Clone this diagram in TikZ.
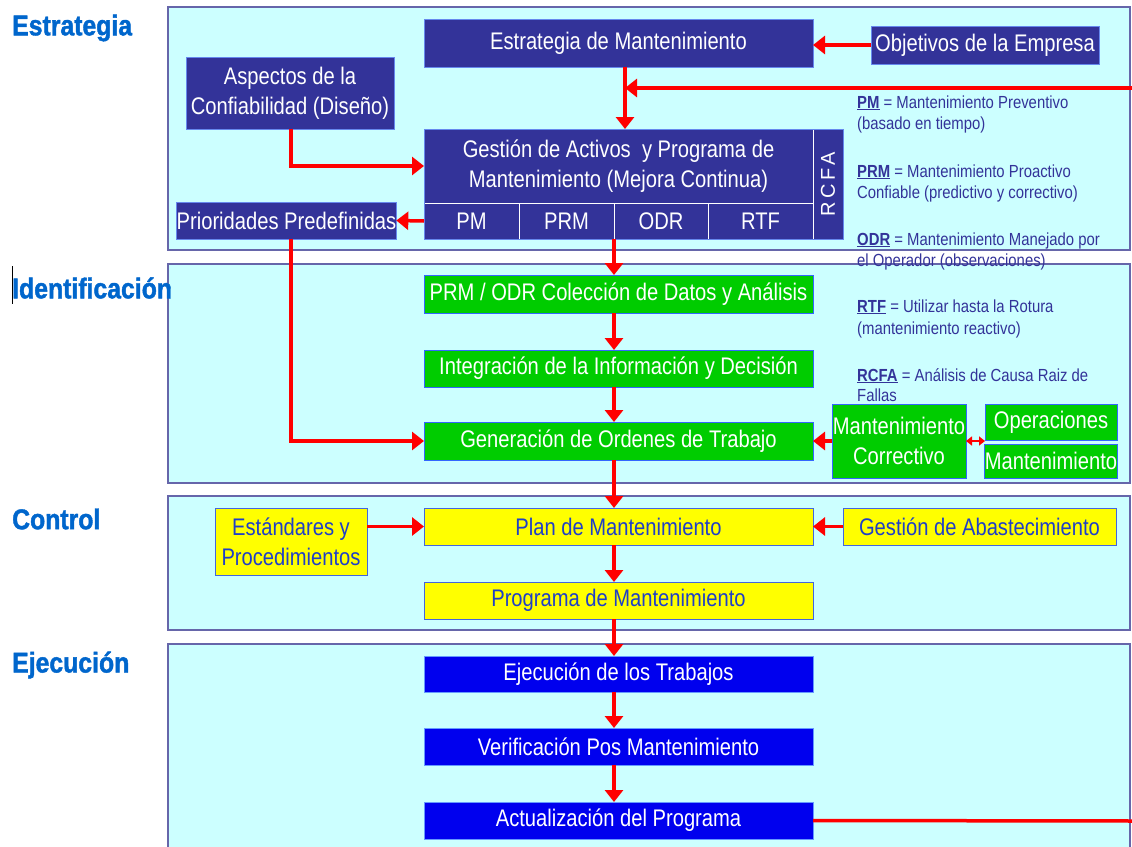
\documentclass[tikz,border=0pt]{standalone}
\usepackage{fontspec}
\setmainfont{Liberation Sans}
\newfontfamily\bxf{Liberation Sans}[FakeStretch=0.84]
\newfontfamily\lgf{Liberation Sans}[FakeStretch=0.85]
\newfontfamily\scf{Liberation Sans Bold}[FakeStretch=0.87, FakeBold=1.5]
\usetikzlibrary{arrows.meta,calc}
\definecolor{frfill}{HTML}{CCFFFF}
\definecolor{frdraw}{HTML}{6666AA}
\definecolor{navy}{HTML}{333399}
\definecolor{navyb}{HTML}{6688EE}
\definecolor{grn}{HTML}{00CC00}
\definecolor{grnb}{HTML}{3366FF}
\definecolor{ylw}{HTML}{FFFF00}
\definecolor{ylwb}{HTML}{4466DD}
\definecolor{ylwt}{HTML}{1F3FC8}
\definecolor{blu}{HTML}{0000EE}
\definecolor{blub}{HTML}{6699FF}
\definecolor{sect}{HTML}{0066CC}
\definecolor{lgt}{HTML}{333399}
\definecolor{arred}{HTML}{FF0000}
\begin{document}
\begin{tikzpicture}[x=1pt,y=-1pt,
  box/.style={line width=1pt, inner sep=0pt, outer sep=0pt, align=center,
    font=\bxf\fontsize{24}{30}\selectfont},
  navybox/.style={box, fill=navy, draw=navyb, text=white},
  cellbox/.style={box, fill=navy, draw=white, text=white},
  grnbox/.style={box, fill=grn, draw=grnb, text=white},
  ylwbox/.style={box, fill=ylw, draw=ylwb, text=ylwt},
  blubox/.style={box, fill=blu, draw=blub, text=white},
  frame/.style={fill=frfill, draw=frdraw, line width=1.5pt},
  sectlabel/.style={anchor=west, inner sep=0pt, text=sect, font=\scf\fontsize{28.5}{31}\selectfont},
  legend/.style={anchor=base west, inner sep=0pt, text=lgt, font=\lgf\fontsize{17.5}{21}\selectfont},
  arr/.style={draw=arred, line width=3.5pt, -{Triangle[length=12pt,width=18pt]}},
  arrline/.style={draw=arred, line width=3.5pt},
  darr/.style={draw=arred, line width=2pt, {Triangle[length=6pt,width=9pt]}-{Triangle[length=6pt,width=9pt]}}
]
\useasboundingbox (0,0) rectangle (1132,846);

% frames
\draw[frame] (168,7) rectangle (1130,250);
\draw[frame] (168,264) rectangle (1130,483);
\draw[frame] (168,496) rectangle (1130,630);
\draw[frame] (168,644) rectangle (1130,860);

% section labels
\node[sectlabel] (sEst) at (12,28) {Estrategia};
\node[sectlabel] (sIde) at (12,288) {Identificación};
\node[sectlabel] (sCon) at (12,519) {Control};
\node[sectlabel] (sEje) at (12,665) {Ejecución};
\draw[black, line width=0.8pt] (12,266) -- (12,304);

% helper coordinates
\coordinate (xa) at (625,0);
\coordinate (xm) at (614,0);
\coordinate (xl) at (291,0);
\coordinate (fbin) at (1136,88);
\coordinate (fbj) at (625,88);
\coordinate (fbout) at (1136,821);

% Estrategia nodes
\node[navybox, minimum width=389pt, minimum height=48pt] (estr) at (618.5,43) {Estrategia de Mantenimiento};
\node[navybox, minimum width=228pt, minimum height=38pt] (obj) at (985,45) {Objetivos de la Empresa};
\node[navybox, minimum width=208pt, minimum height=72pt] (asp) at (290,93) {Aspectos de la\\Confiabilidad (Diseño)};
\node[cellbox, minimum width=389pt, minimum height=74pt] (gest) at (618.5,166) {Gestión de Activos~ y Programa de\\Mantenimiento (Mejora Continua)};
\node[cellbox, minimum width=95pt, minimum height=36pt] (pm) at (471.5,221) {PM};
\node[cellbox, minimum width=95pt, minimum height=36pt] (prm) at (566.5,221) {PRM};
\node[cellbox, minimum width=94pt, minimum height=36pt] (odr) at (661,221) {ODR};
\node[cellbox, minimum width=105pt, minimum height=36pt] (rtf) at (760.5,221) {RTF};
\node[cellbox, minimum width=30pt, minimum height=110pt] (rcfa) at (828,184) {};
\node[text=white, rotate=90, inner sep=0pt, font=\fontsize{20}{22}\selectfont] (rcfat) at (rcfa.center) {R\,C\,F\,A};
\draw[navyb, line width=1pt] (gest.north west) rectangle (rcfa.south east);
\node[navybox, minimum width=219pt, minimum height=37pt] (prio) at (286.5,220.5) {Prioridades Predefinidas};

% legend
\node[legend] (l1) at (857,108) {\underline{\textbf{PM}} = Mantenimiento Preventivo};
\node[legend] (l2) at (857,129) {(basado en tiempo)};
\node[legend] (l3) at (857,177) {\underline{\textbf{PRM}} = Mantenimiento Proactivo};
\node[legend] (l4) at (857,198) {Confiable (predictivo y correctivo)};
\node[legend] (l5) at (857,245) {\underline{\textbf{ODR}} = Mantenimiento Manejado por};
\node[legend] (l6) at (857,266) {el Operador (observaciones)};
\node[legend] (l7) at (857,312) {\underline{\textbf{RTF}} = Utilizar hasta la Rotura};
\node[legend] (l8) at (857,334) {(mantenimiento reactivo)};
\node[legend] (l9) at (857,381) {\underline{\textbf{RCFA}} = Análisis de Causa Raiz de};
\node[legend] (l10) at (857,401) {Fallas};

% Identificación nodes
\node[grnbox, minimum width=389pt, minimum height=38pt] (prmb) at (618.5,294) {PRM / ODR Colección de Datos y Análisis};
\node[grnbox, minimum width=389pt, minimum height=37pt] (integ) at (618.5,368.5) {Integración de la Información y Decisión};
\node[grnbox, minimum width=389pt, minimum height=38pt] (gen) at (618.5,441) {Generación de Ordenes de Trabajo};
\node[grnbox, minimum width=134pt, minimum height=74pt] (mcorr) at (899,441) {Mantenimiento\\Correctivo};
\node[grnbox, minimum width=132pt, minimum height=36pt] (oper) at (1051,422) {Operaciones};
\node[grnbox, minimum width=132pt, minimum height=34pt] (mant) at (1051,461) {Mantenimiento};

% Control nodes
\node[ylwbox, minimum width=389pt, minimum height=37pt] (plan) at (618.5,526.5) {Plan de Mantenimiento};
\node[ylwbox, minimum width=152pt, minimum height=67pt] (estd) at (291,541.5) {Estándares y\\Procedimientos};
\node[ylwbox, minimum width=273pt, minimum height=37pt] (abast) at (979.5,526.5) {Gestión de Abastecimiento};
\node[ylwbox, minimum width=389pt, minimum height=37pt] (prog) at (618.5,600.5) {Programa de Mantenimiento};

% Ejecución nodes
\node[blubox, minimum width=389pt, minimum height=36pt] (ejec) at (618.5,674) {Ejecución de los Trabajos};
\node[blubox, minimum width=389pt, minimum height=37pt] (verif) at (618.5,746.5) {Verificación Pos Mantenimiento};
\node[blubox, minimum width=389pt, minimum height=37pt] (act) at (618.5,820.5) {Actualización del Programa};

% connectors
\draw[arr] (obj.west) -- (estr.east |- obj.west);
\draw[arr] (xa |- estr.south) -- (xa |- gest.north);
\draw[arr] (fbin) -- (fbj);
\draw[arr] (xl |- asp.south) |- (gest.west);
\draw[arr] (pm.west) -- (prio.east);
\draw[arr] (xl |- prio.south) |- (gen.west);
\draw[arr] (xm |- pm.south) -- (xm |- prmb.north);
\draw[arr] (xm |- prmb.south) -- (xm |- integ.north);
\draw[arr] (xm |- integ.south) -- (xm |- gen.north);
\draw[arr] (mcorr.west) -- (gen.east);
\draw[darr] (mcorr.east) -- (oper.west |- mcorr.east);
\draw[arr] (xm |- gen.south) -- (xm |- plan.north);
\draw[arr] (estd.east |- plan.west) -- (plan.west);
\draw[arr] (abast.west) -- (plan.east);
\draw[arr] (xm |- plan.south) -- (xm |- prog.north);
\draw[arr] (xm |- prog.south) -- (xm |- ejec.north);
\draw[arr] (xm |- ejec.south) -- (xm |- verif.north);
\draw[arr] (xm |- verif.south) -- (xm |- act.north);
\draw[arrline] (act.east) -- (fbout);
\end{tikzpicture}
\end{document}
